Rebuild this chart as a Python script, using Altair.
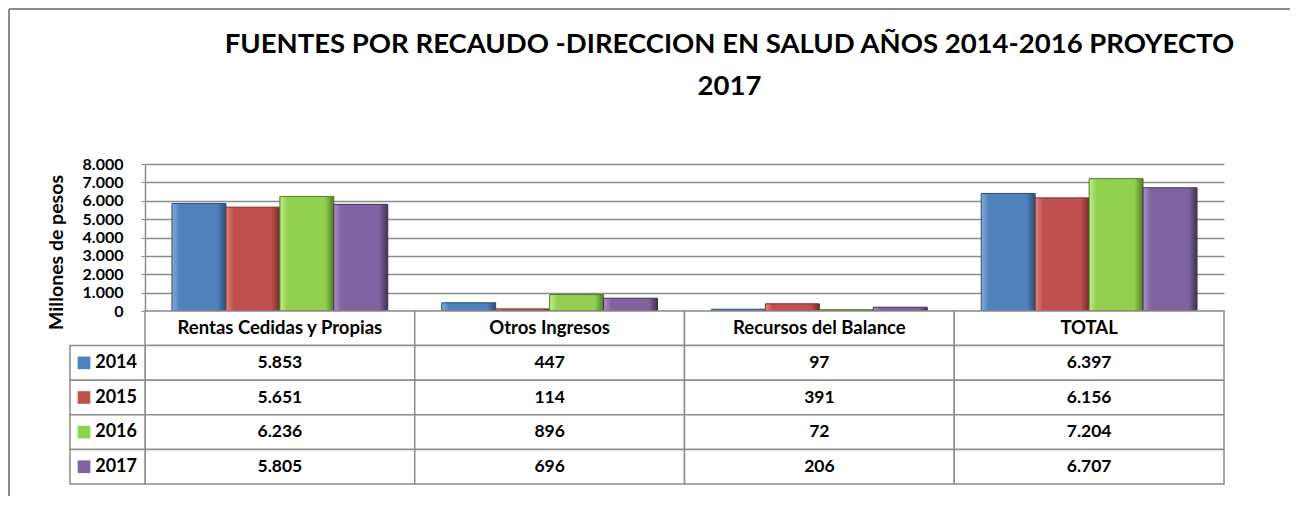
import altair as alt
import pandas as pd

categories = ["Rentas Cedidas y Propias", "Otros Ingresos", "Recursos del Balance", "TOTAL"]
years = ["2014", "2015", "2016", "2017"]
v2014 = [5853, 447, 97, 6397]
v2015 = [5651, 114, 391, 6156]
v2016 = [6236, 896, 72, 7204]
v2017 = [5805, 696, 206, 6707]
y_ticks = [0, 1000, 2000, 3000, 4000, 5000, 6000, 7000, 8000]

colors = ["#4F81BD", "#C0504D", "#92D050", "#8064A2"]
light = ["#86ACDD", "#E58684", "#C2EE8C", "#AA92C9"]
dark = ["#2C4D75", "#772C2A", "#4F7A22", "#3F3151"]

series = {"2014": v2014, "2015": v2015, "2016": v2016, "2017": v2017}
rows = []
for yr in years:
    for c, v in zip(categories, series[yr]):
        rows.append({"cat": c, "year": yr, "value": v,
                     "label": f"{v:,}".replace(",", ".")})
df = pd.DataFrame(rows)

FONT = "Lato"
GRID = "#8C8C8C"

xs_top = alt.X("cat:N", sort=categories, axis=None,
               scale=alt.Scale(domain=categories, paddingInner=0.2, paddingOuter=0.1))
xo = alt.XOffset("year:N", scale=alt.Scale(domain=years, paddingInner=0, paddingOuter=0))
ys = alt.Y("value:Q", scale=alt.Scale(domain=[0, 8000]),
           axis=alt.Axis(values=y_ticks, labelExpr="replace(format(datum.value, ','), ',', '.')",
                         title="Millones de pesos", titleFont=FONT, titleFontSize=19.5,
                         titleFontWeight="bold", titleColor="black", titlePadding=16,
                         titleY=88,
                         labelFont=FONT, labelFontSize=16, labelFontWeight="bold",
                         labelColor="black", labelPadding=18, tickSize=4, tickColor=GRID,
                         domainColor=GRID, domainWidth=1.5, gridColor=GRID, gridWidth=1.5,
                         grid=True))

layers = []
for i, yr in enumerate(years):
    grad = alt.Gradient(gradient="linear", x1=0, x2=1, y1=0, y2=0,
                        stops=[alt.GradientStop(color=light[i], offset=0),
                               alt.GradientStop(color=colors[i], offset=0.14),
                               alt.GradientStop(color=colors[i], offset=0.84),
                               alt.GradientStop(color=dark[i], offset=1)])
    layers.append(
        alt.Chart(df).transform_filter(alt.datum.year == yr)
        .mark_bar(color=grad, stroke=dark[i], strokeWidth=1)
        .encode(x=xs_top, xOffset=xo, y=ys)
    )

# outer chart frame (left and top edges)
frame_df = pd.DataFrame({"k": [0]})
frame_left = alt.Chart(frame_df).mark_rule(color="#8C8C8C", strokeWidth=2).encode(
    x=alt.value(-136), y=alt.value(-155), y2=alt.value(332))
frame_top = alt.Chart(frame_df).mark_rule(color="#8C8C8C", strokeWidth=2).encode(
    x=alt.value(-136), x2=alt.value(1145), y=alt.value(-155))

top = alt.layer(*layers, frame_left, frame_top).properties(width=1079, height=147)

# table
hdr = pd.DataFrame({"cat": categories, "row": ["hdr"] * 4, "text": categories})
vals = pd.DataFrame({"cat": df["cat"], "row": df["year"], "text": df["label"]})
tdf = pd.concat([hdr, vals], ignore_index=True)
row_domain = ["hdr"] + years
leg = pd.DataFrame({"row": years})

xs_t = alt.X("cat:N", sort=categories, axis=None,
             scale=alt.Scale(domain=categories, paddingInner=0, paddingOuter=0))
ys_t = alt.Y("row:N", axis=None,
             scale=alt.Scale(domain=row_domain, paddingInner=0, paddingOuter=0))

cells = alt.Chart(tdf).mark_rect(fill="white", stroke=GRID, strokeWidth=1.5).encode(x=xs_t, y=ys_t)
texts = alt.Chart(tdf).mark_text(font=FONT, fontWeight="bold", color="black").encode(
    x=xs_t, y=ys_t, text="text:N",
    size=alt.condition(alt.datum.row == "hdr", alt.value(18.5), alt.value(17.5)))
legcells = alt.Chart(leg).mark_rect(fill="white", stroke=GRID, strokeWidth=1.5).encode(
    x=alt.value(-75), x2=alt.value(0), y=ys_t)
legsq = alt.Chart(leg).mark_square(size=160, opacity=1).encode(
    x=alt.value(-61), y=ys_t,
    color=alt.Color("row:N", scale=alt.Scale(domain=years, range=colors), legend=None))
legtxt = alt.Chart(leg).mark_text(font=FONT, fontSize=18, fontWeight="bold", color="black",
                                  align="right").encode(x=alt.value(-8), y=ys_t, text="row:N")

table = alt.layer(cells, texts, legcells, legsq, legtxt).properties(width=1079, height=173)

chart = alt.vconcat(top, table, spacing=0, bounds="flush").properties(
    title=alt.TitleParams(
        text=["FUENTES POR RECAUDO -DIRECCION EN SALUD AÑOS 2014-2016 PROYECTO", "2017"],
        font=FONT, fontSize=27.5, fontWeight="bold", color="black", anchor="middle",
        lineHeight=42, offset=0, dy=92, dx=80),
    padding={"left": 0, "top": 0, "right": 0, "bottom": 0},
).configure_view(strokeWidth=0)

chart.save("out.html", embed_options={"renderer": "svg", "actions": False})
